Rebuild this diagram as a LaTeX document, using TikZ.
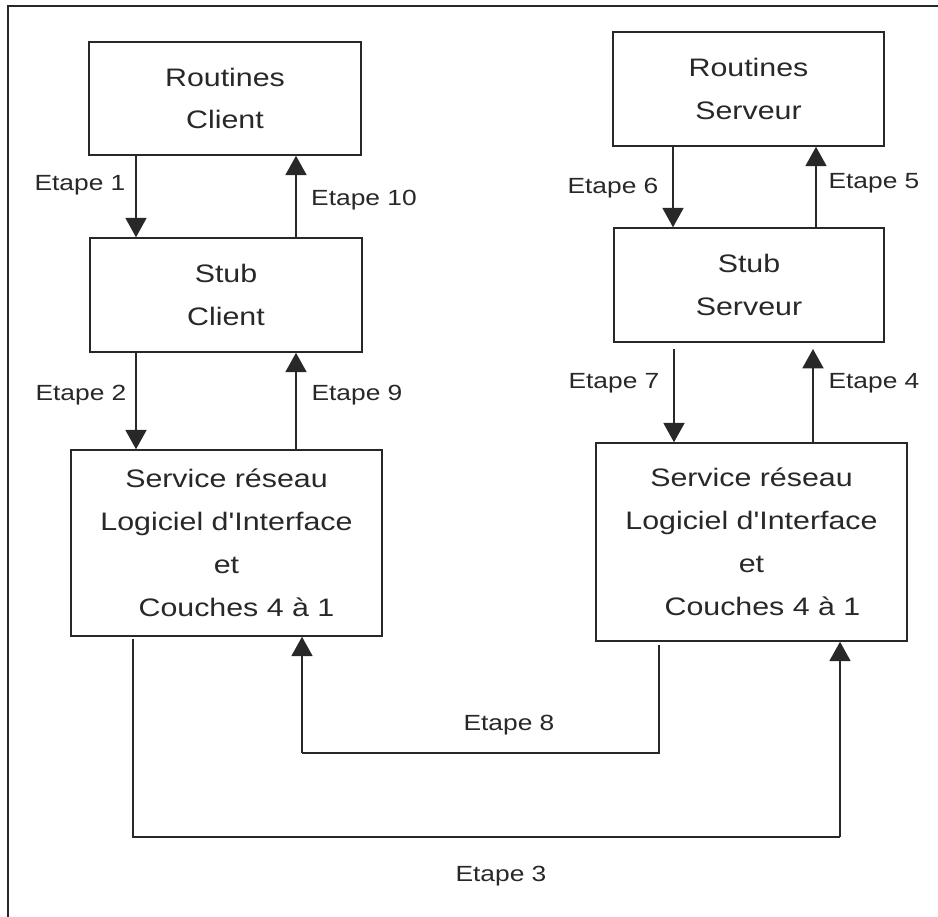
\documentclass[tikz,border=0pt]{standalone}
\usepackage{fontspec}
\newfontfamily\diagfont{Liberation Sans}[FakeStretch=1.2]
\usetikzlibrary{arrows.meta}
\definecolor{ink}{RGB}{40,40,40}
\tikzset{
  box/.style={draw=ink, line width=0.9pt, align=center, inner sep=0pt,
    font=\diagfont\fontsize{14.4}{24.4}\selectfont, text=ink},
  arr/.style={draw=ink, line width=0.8pt, -{Triangle[length=11pt,width=12pt]}},
  wire/.style={draw=ink, line width=0.8pt},
  lbl/.style={font=\diagfont\fontsize{12.5}{14}\selectfont, text=ink, inner sep=0pt},
}
\begin{document}
\begin{tikzpicture}[x=0.02cm, y=-0.02cm]
\useasboundingbox (0,0) rectangle (938,917);
\fill[white] (0,0) rectangle (938,917);
% frame
\draw[ink, line width=1.4pt] (8,917) -- (8,6) -- (938,6);

% boxes
\node[box, minimum width=5.44cm, minimum height=2.26cm] (RC) at (225,98.5) {Routines\\Client};
\node[box, minimum width=5.44cm, minimum height=2.28cm] (SC) at (226,295) {Stub\\Client};
\node[box, minimum width=6.22cm, minimum height=3.72cm] (LS) at (226.5,543)
  {Service réseau\\Logiciel d'Interface\\et\hspace*{0.36cm}\\\hspace*{0.4cm}Couches 4 à 1};
\node[box, minimum width=5.42cm, minimum height=2.28cm] (RS) at (748.5,89) {Routines\\Serveur};
\node[box, minimum width=5.40cm, minimum height=2.28cm] (SS) at (749,285) {Stub\\Serveur};
\node[box, minimum width=6.22cm, minimum height=3.96cm] (RN) at (751.5,542)
  {Service réseau\\Logiciel d'Interface\\et\hspace*{0.3cm}\\\hspace*{0.44cm}Couches 4 à 1};

% x positions of connectors
\coordinate (xa) at (136,0);
\coordinate (xb) at (296,0);
\coordinate (xc) at (673,0);
\coordinate (xd) at (816,0);
\coordinate (xe) at (674,0);
\coordinate (xf) at (813,0);
\coordinate (s7) at (0,349);
% bottom routes
\coordinate (e8s) at (659,645);
\coordinate (e8a) at (659,753);
\coordinate (e8b) at (302,753);
\coordinate (e3s) at (133,639);
\coordinate (e3a) at (133,837);
\coordinate (e3b) at (840,837);

% vertical arrows
\draw[arr] (RC.south -| xa) -- (SC.north -| xa);
\draw[arr] (SC.north -| xb) -- (RC.south -| xb);
\draw[arr] (SC.south -| xa) -- (LS.north -| xa);
\draw[arr] (LS.north -| xb) -- (SC.south -| xb);
\draw[arr] (RS.south -| xc) -- (SS.north -| xc);
\draw[arr] (SS.north -| xd) -- (RS.south -| xd);
\draw[arr] (s7 -| xe) -- (RN.north -| xe);
\draw[arr] (RN.north -| xf) -- (s7 -| xf);

% bottom connectors
\draw[wire] (e8s) -- (e8a) -- (e8b);
\draw[arr] (e8b) -- (LS.south -| e8b);
\draw[wire] (e3s) -- (e3a) -- (e3b);
\draw[arr] (e3b) -- (RN.south -| e3b);

% labels
\node[lbl] (l1) at (80,185) {Etape 1};
\node[lbl] (l10) at (364,200) {Etape 10};
\node[lbl] (l2) at (81,395) {Etape 2};
\node[lbl] (l9) at (357,395) {Etape 9};
\node[lbl] (l6) at (613,188) {Etape 6};
\node[lbl] (l5) at (874,183) {Etape 5};
\node[lbl] (l7) at (614,383) {Etape 7};
\node[lbl] (l4) at (874,383) {Etape 4};
\node[lbl] (l8) at (509,725) {Etape 8};
\node[lbl] (l3) at (501,876) {Etape 3};
\end{tikzpicture}
\end{document}
